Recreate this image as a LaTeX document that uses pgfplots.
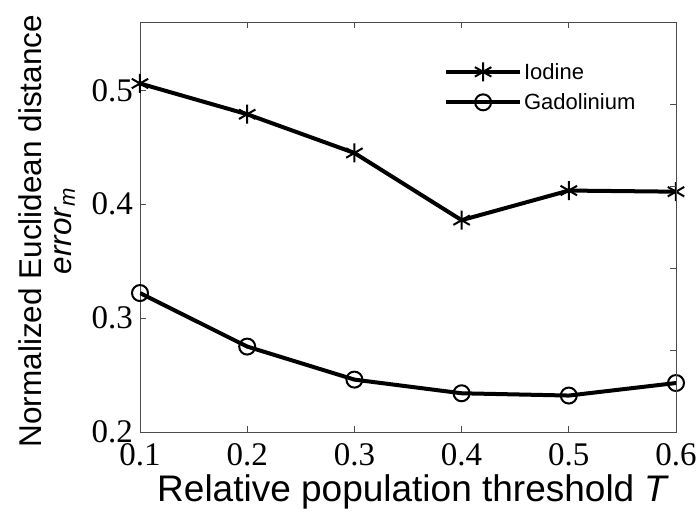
\documentclass[border=0pt]{standalone}
\usepackage{pgfplots}
\pgfplotsset{compat=1.18}
\usepackage{fontspec}
\setmainfont{Liberation Sans}
\newfontfamily\tickfont{Liberation Serif}
\begin{document}
\begin{tikzpicture}
\path[use as bounding box] (0pt,0pt) rectangle (697pt,530pt);
\begin{axis}[
  at={(140pt,98pt)}, anchor=south west,
  scale only axis, width=536pt, height=410pt,
  xmin=0.1, xmax=0.6, ymin=0.2, ymax=0.56,
  xtick={0.1,0.2,0.3,0.4,0.5,0.6},
  ytick={0.2,0.3,0.4,0.5},
  xticklabels={0.1,0.2,0.3,0.4,0.5,0.6},
  yticklabels={0.2,0.3,0.4,0.5},
  xtick pos=both, ytick pos=left,
  tick align=inside, major tick length=6pt,
  axis line style={black!70, line width=0.8pt},
  every tick/.style={black!70, line width=0.8pt},
  ticklabel style={font=\tickfont\fontsize{33}{35}\selectfont},
  yticklabel style={anchor=east, inner sep=0pt, xshift=-7pt},
  xticklabel style={anchor=north, inner sep=0pt, yshift=-11pt},
  xlabel={Relative population threshold \textit{T}},
  xlabel style={font=\fontsize{37}{40}\selectfont, at={(axis description cs:0.51,-0.17)}, anchor=base, inner sep=0pt},
  ylabel={Normalized Euclidean distance\\\textit{error}\textsubscript{\textit{m}}},
  ylabel style={font=\fontsize{31.5}{30}\selectfont, align=center, at={(axis description cs:-0.121,0.49)}, anchor=south, inner sep=0pt},
  legend style={font=\fontsize{22}{24}\selectfont, draw=none, fill=none, inner sep=0pt,
    at={(axis description cs:0.567,0.905)}, anchor=north west, row sep=9pt,
    cells={anchor=west}},
  legend image code/.code={\draw[mark repeat=2,mark phase=2,#1] plot coordinates {(0pt,0pt) (37pt,0pt) (74pt,0pt)};},
]
\addplot[black, line width=4pt, mark=asterisk, mark size=9.5pt, mark options={line width=2pt}]
 coordinates {(0.1,0.506) (0.2,0.479) (0.3,0.445) (0.4,0.386) (0.5,0.412) (0.6,0.411)};
\addlegendentry{Iodine}
\addplot[black, line width=4pt, mark=o, mark size=8pt, mark options={line width=2pt, fill=white}]
 coordinates {(0.1,0.322) (0.2,0.275) (0.3,0.246) (0.4,0.234) (0.5,0.232) (0.6,0.243)};
\addlegendentry{Gadolinium}
\end{axis}
\begin{axis}[
  at={(140pt,98pt)}, anchor=south west,
  scale only axis, width=536pt, height=410pt,
  xmin=0, xmax=1, ymin=0, ymax=5,
  ytick={1,2,3,4}, yticklabels={},
  ytick pos=right, tick align=inside, major tick length=6pt,
  axis x line=none, axis y line*=right,
  axis line style={black!70, line width=0.8pt},
  every tick/.style={black!70, line width=0.8pt},
]
\end{axis}
\end{tikzpicture}
\end{document}
